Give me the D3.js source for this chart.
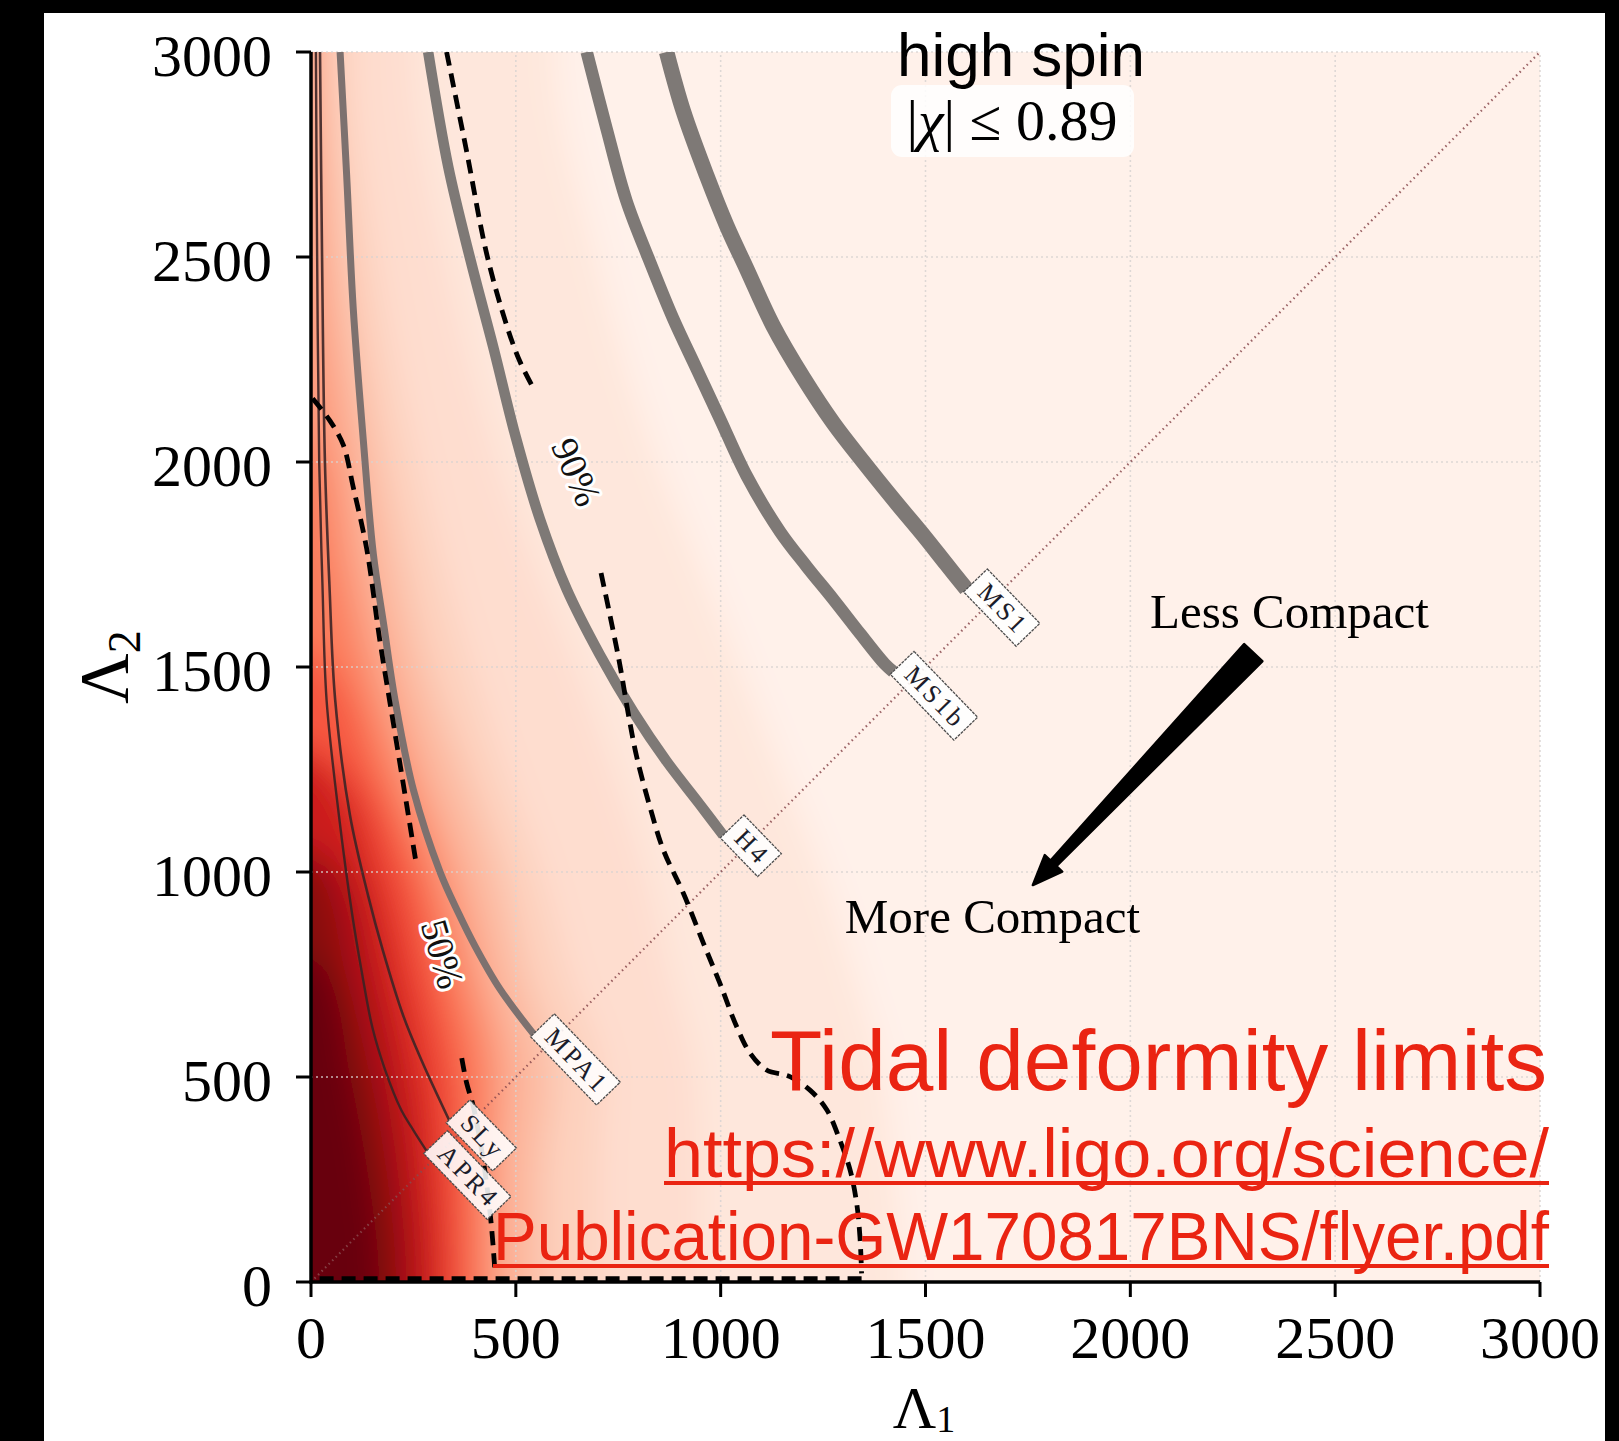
<!DOCTYPE html>
<html>
<head>
<meta charset="utf-8">
<script src="https://cdn.jsdelivr.net/npm/d3@7"></script>
<style>
  html, body { margin: 0; padding: 0; background: #fff; }
  svg { display: block; }
</style>
</head>
<body>
<svg id="chart" width="1619" height="1441"></svg>
<script>
// ---------------- data ----------------
const xTicks = [0, 500, 1000, 1500, 2000, 2500, 3000];
const yTicks = [0, 500, 1000, 1500, 2000, 2500, 3000];

// Posterior density shading: for each level (fraction of the Reds ramp) the
// Λ1 value where the density drops below that level, listed per Λ2 row.
// null = level not reached on that row.
const shadeRows = [0, 250, 500, 750, 1000, 1250, 1500, 1750, 2000, 2500, 3000];
const shadeFloor = 0.025;
const shadeLevels = [0.06, 0.10, 0.15, 0.20, 0.30, 0.40, 0.50, 0.60, 0.70, 0.80, 0.90, 0.97];
const shade006 = [1450, 1430, 1400, 1330, 1250, 1150, 1050, 950, 850, 700, 600];
const shade010 = [950, 950, 940, 880, 820, 740, 650, 550, 460, 330, 250];
const shade015 = [700, 700, 710, 630, 560, 470, 390, 320, 260, 160, 100];
const shade020 = [565, 565, 590, 520, 460, 370, 280, 220, 170, 85, 45];
const shade030 = [470, 470, 485, 430, 365, 270, 190, 130, 90, 25, 10];
const shade040 = [425, 425, 425, 370, 300, 205, 120, 60, 20, null, null];
const shade050 = [385, 380, 370, 315, 255, 150, 40, null, null, null, null];
const shade060 = [345, 335, 315, 260, 195, 80, null, null, null, null, null];
const shade070 = [305, 290, 260, 205, 140, 30, null, null, null, null, null];
const shade080 = [265, 245, 205, 150, 85, null, null, null, null, null, null];
const shade090 = [215, 195, 150, 90, 20, null, null, null, null, null, null];
const shade097 = [165, 140, 95, 40, null, null, null, null, null, null, null];
const shadeEdges = [shade006, shade010, shade015, shade020, shade030, shade040,
                    shade050, shade060, shade070, shade080, shade090, shade097];

// Equation-of-state tracks [Λ1, Λ2]; each ends on the equal-mass line.
const eosAPR4 = [[12,3000],[15,2500],[20,2000],[28,1700],[38,1420],[68,1139],[100,900],[125,750],[150,620],[180,520],[220,420],[250,370],[282,320]];
const eosSLy  = [[22,3000],[27,2500],[34,2000],[45,1700],[59,1420],[95,1139],[140,940],[175,810],[225,650],[270,540],[337,395]];
const eosMPA1 = [[71,3000],[87,2700],[103,2376],[128,2049],[152,1777],[178,1600],[205,1420],[250,1200],[315,1000],[360,900],[400,820],[461,715],[543,605]];
const eosH4   = [[286,3000],[335,2720],[390,2490],[445,2280],[500,2060],[559,1860],[624,1690],[705,1530],[787,1390],[868,1270],[949,1165],[1006,1090]];
const eosMS1b = [[673,3000],[722,2811],[770,2637],[827,2489],[884,2350],[941,2228],[998,2106],[1063,1967],[1145,1830],[1210,1745],[1275,1665],[1340,1582],[1400,1508],[1421,1489]];
const eosMS1  = [[868,3000],[909,2855],[966,2698],[1015,2576],[1063,2472],[1128,2332],[1202,2205],[1275,2095],[1350,1998],[1425,1905],[1500,1815],[1550,1752],[1600,1690]];
const eosNames = ["APR4", "SLy", "MPA1", "H4", "MS1b", "MS1"];
const eosTracks = [eosAPR4, eosSLy, eosMPA1, eosH4, eosMS1b, eosMS1];

// Credible-region contours (dashed), split where the inline labels sit.
const c90Upper = [[331,3000],[380,2757],[429,2507],[478,2332],[510,2245],[543,2180]];
const c90Lower = [[708,1729],[730,1625],[754,1505],[775,1383],[795,1281],[827,1160],[860,1054],[909,948],[958,826],[998,729],[1039,623],[1072,558],[1112,517],[1169,501],[1218,468],[1259,420],[1291,346],[1316,273],[1332,192],[1340,110],[1344,21]];
const c90Floor = [[1344,8],[0,8]];
const c50Upper = [[4,2155],[46,2101],[79,2041],[103,1939],[136,1788],[168,1565],[201,1363],[234,1161],[258,1013]];
const c50Lower = [[368,546],[380,485],[396,429],[415,330],[430,230],[441,130],[449,27]];
const c90LabelAt = [649, 1976];
const c50LabelAt = [322, 800];

// Annotation anchors [Λ1, Λ2]
const arrowFrom = [2300, 1535];
const arrowTo = [1762, 968];
const lessLabelAt = [2048, 1595];
const moreLabelAt = [1303, 851];

// ---------------- drawing ----------------
const svg = d3.select("#chart");
const W = 1619, H = 1441;
const x = d3.scaleLinear().domain([0, 3000]).range([311, 1540]);
const y = d3.scaleLinear().domain([0, 3000]).range([1282, 52]);
const serif = "'Liberation Serif', 'DejaVu Serif', serif";
const sans = "'Liberation Sans', Arial, sans-serif";
const red = "#ea2412";

svg.append("rect").attr("width", W).attr("height", H).attr("fill", "#fff");

const defs = svg.append("defs");
defs.append("clipPath").attr("id", "plotClip")
  .append("rect").attr("x", x(0)).attr("y", y(3000))
  .attr("width", x(3000) - x(0)).attr("height", y(0) - y(3000));
const blur = defs.append("filter").attr("id", "soft")
  .attr("filterUnits", "userSpaceOnUse")
  .attr("x", 100).attr("y", -200).attr("width", 1700).attr("height", 1700);
blur.append("feGaussianBlur").attr("stdDeviation", 16);

// density shading
const shade = svg.append("g").attr("clip-path", "url(#plotClip)")
  .append("g").attr("filter", "url(#soft)");
shade.append("rect")
  .attr("x", x(-300)).attr("y", y(3300))
  .attr("width", x(3300) - x(-300)).attr("height", y(-300) - y(3300))
  .attr("fill", d3.interpolateReds(shadeFloor));
const bandArea = d3.area()
  .curve(d3.curveMonotoneY)
  .y(d => y(d[0]))
  .x0(x(-300))
  .x1(d => x(d[1] === null ? -400 : d[1]));
shadeLevels.forEach((t, k) => {
  const e = shadeEdges[k];
  const pts = [[-300, e[0]]].concat(shadeRows.map((r, i) => [r, e[i]]), [[3300, e[e.length - 1]]]);
  pts.reverse(); // top of plot first so pixel y increases
  const tFill = k < shadeLevels.length - 1 ? (t + shadeLevels[k + 1]) / 2 : 1;
  shade.append("path").attr("d", bandArea(pts)).attr("fill", d3.interpolateReds(tFill));
});

// grid
const grid = svg.append("g").attr("stroke", "#d9d4d2").attr("stroke-width", 1.6)
  .attr("stroke-dasharray", "2,3").attr("opacity", 0.85);
grid.selectAll(".gx").data(xTicks).join("line")
  .attr("x1", d => x(d)).attr("x2", d => x(d)).attr("y1", y(0)).attr("y2", y(3000));
grid.selectAll(".gy").data(yTicks).join("line")
  .attr("y1", d => y(d)).attr("y2", d => y(d)).attr("x1", x(0)).attr("x2", x(3000));

// equal-mass diagonal
svg.append("line")
  .attr("x1", x(0)).attr("y1", y(0)).attr("x2", x(3000)).attr("y2", y(3000))
  .attr("stroke", "#8a4a4e").attr("stroke-width", 2.2)
  .attr("stroke-dasharray", "1.5,3.5").attr("opacity", 0.85);

// EOS tracks
const trackLine = d3.line().curve(d3.curveCatmullRom.alpha(0.5)).x(d => x(d[0])).y(d => y(d[1]));
const trackStyle = {
  APR4: { w: 2.4, c: "#3b2223", o: 0.9 },
  SLy:  { w: 2.6, c: "#3d2526", o: 0.9 },
  MPA1: { w: 7,   c: "#7d716f", o: 1 },
  H4:   { w: 10.5, c: "#7e7976", o: 1 },
  MS1b: { w: 12.5, c: "#7e7976", o: 1 },
  MS1:  { w: 15.5, c: "#7e7976", o: 1 }
};
const tracksG = svg.append("g").attr("clip-path", "url(#plotClip)");
eosTracks.forEach((pts, i) => {
  const s = trackStyle[eosNames[i]];
  tracksG.append("path").attr("d", trackLine(pts)).attr("fill", "none")
    .attr("stroke", s.c).attr("stroke-width", s.w).attr("opacity", s.o)
    .attr("stroke-linecap", "butt");
});

// credible-region contours
const contourG = svg.append("g").attr("clip-path", "url(#plotClip)")
  .attr("fill", "none").attr("stroke", "#000").attr("stroke-width", 4.8)
  .attr("stroke-dasharray", "14,8");
[c90Upper, c90Lower, c50Upper, c50Lower].forEach(pts => {
  contourG.append("path").attr("d", trackLine(pts));
});
contourG.append("path").attr("d", d3.line().x(d => x(d[0])).y(d => y(d[1]))(c90Floor));

// contour labels
function contourLabel(txt, at, angle) {
  svg.append("text")
    .attr("transform", `translate(${x(at[0])},${y(at[1])}) rotate(${angle})`)
    .attr("text-anchor", "middle").attr("dy", "0.35em")
    .attr("font-family", serif).attr("font-size", 38)
    .attr("fill", "#111").attr("stroke", "#fff").attr("stroke-width", 6)
    .attr("paint-order", "stroke").attr("stroke-linejoin", "round")
    .text(txt);
}
contourLabel("90%", c90LabelAt, 66);
contourLabel("50%", c50LabelAt, 74);

// EOS name tags at the end of each track
eosTracks.forEach((pts, i) => {
  const end = pts[pts.length - 1];
  const g = svg.append("g")
    .attr("transform", `translate(${x(end[0])},${y(end[1])}) rotate(46)`);
  const rect = g.append("rect");
  const t = g.append("text")
    .attr("x", 10).attr("y", -4)
    .attr("font-family", serif).attr("font-size", 26)
    .attr("letter-spacing", 3).attr("fill", "#1c1c2a")
    .text(eosNames[i]);
  const len = t.node().getComputedTextLength();
  rect.attr("x", 0).attr("y", -29).attr("width", len + 16).attr("height", 33)
    .attr("fill", "#fff").attr("fill-opacity", 0.88)
    .attr("stroke", "#4d4d4d").attr("stroke-width", 1.3)
    .attr("stroke-dasharray", "3,1");
});

// "Less Compact" -> "More Compact" arrow
(function () {
  const T = [x(arrowFrom[0]), y(arrowFrom[1])];
  const P = [x(arrowTo[0]), y(arrowTo[1])];
  const dx = P[0] - T[0], dy = P[1] - T[1];
  const L = Math.hypot(dx, dy);
  const u = [dx / L, dy / L], n = [-u[1], u[0]];
  const headLen = 30, headHalf = 12, tailHalf = 12.5, neckHalf = 4;
  const B = [P[0] - u[0] * headLen, P[1] - u[1] * headLen];
  const pt = (p, s) => [p[0] + n[0] * s, p[1] + n[1] * s];
  const poly = [pt(T, tailHalf), pt(B, neckHalf), pt(B, headHalf), P,
                pt(B, -headHalf), pt(B, -neckHalf), pt(T, -tailHalf)];
  svg.append("path").attr("d", "M" + poly.map(p => p.join(",")).join("L") + "Z")
    .attr("fill", "#000").attr("stroke", "#000").attr("stroke-width", 2.5)
    .attr("stroke-linejoin", "round");
})();

svg.append("text").attr("x", x(lessLabelAt[0])).attr("y", y(lessLabelAt[1]))
  .attr("font-family", serif).attr("font-size", 49).attr("fill", "#000")
  .text("Less Compact");
svg.append("text").attr("x", x(moreLabelAt[0])).attr("y", y(moreLabelAt[1]))
  .attr("font-family", serif).attr("font-size", 49).attr("fill", "#000")
  .text("More Compact");

// axes: spines, outward ticks, labels
const axisG = svg.append("g");
axisG.append("line").attr("x1", x(0)).attr("x2", x(0)).attr("y1", y(0) + 1.5).attr("y2", y(3000))
  .attr("stroke", "#000").attr("stroke-width", 3.5);
axisG.append("line").attr("x1", x(0) - 1.5).attr("x2", x(3000)).attr("y1", y(0)).attr("y2", y(0))
  .attr("stroke", "#000").attr("stroke-width", 3.5);
axisG.selectAll(".tx").data(xTicks).join("line")
  .attr("x1", d => x(d)).attr("x2", d => x(d)).attr("y1", y(0)).attr("y2", y(0) + 15)
  .attr("stroke", "#000").attr("stroke-width", 3);
axisG.selectAll(".ty").data(yTicks).join("line")
  .attr("y1", d => y(d)).attr("y2", d => y(d)).attr("x1", x(0)).attr("x2", x(0) - 15)
  .attr("stroke", "#000").attr("stroke-width", 3);
axisG.selectAll(".lx").data(xTicks).join("text")
  .attr("x", d => x(d)).attr("y", 1358).attr("text-anchor", "middle")
  .attr("font-family", serif).attr("font-size", 60).attr("fill", "#000")
  .text(d => d);
axisG.selectAll(".ly").data(yTicks).join("text")
  .attr("x", 272).attr("y", d => y(d) + 24).attr("text-anchor", "end")
  .attr("font-family", serif).attr("font-size", 60).attr("fill", "#000")
  .text(d => d);

const xl = svg.append("text").attr("x", 924).attr("y", 1428).attr("text-anchor", "middle")
  .attr("font-family", serif).attr("font-size", 60).attr("fill", "#000");
xl.append("tspan").text("Λ");
xl.append("tspan").attr("font-size", 38).attr("dy", 4).text("1");
const yl = svg.append("text").attr("transform", "translate(128,667) rotate(-90)")
  .attr("text-anchor", "middle")
  .attr("font-family", serif).attr("font-size", 70).attr("fill", "#000");
yl.append("tspan").text("Λ");
yl.append("tspan").attr("font-size", 46).attr("dy", 12).text("2");

// spin prior tag
svg.append("rect").attr("x", 891).attr("y", 85).attr("width", 243).attr("height", 72)
  .attr("rx", 11).attr("fill", "#fff").attr("fill-opacity", 0.85);
svg.append("text").attr("x", 1021).attr("y", 76).attr("text-anchor", "middle")
  .attr("font-family", sans).attr("font-size", 62).attr("fill", "#000")
  .text("high spin");
const chi = svg.append("text").attr("x", 1012).attr("y", 140).attr("text-anchor", "middle")
  .attr("font-family", serif).attr("font-size", 58).attr("fill", "#000");
chi.append("tspan").text("|");
chi.append("tspan").attr("font-style", "italic").text("χ");
chi.append("tspan").text("| ≤ 0.89");

// caption and source link
svg.append("text").attr("x", 1547).attr("y", 1090).attr("text-anchor", "end")
  .attr("font-family", sans).attr("font-size", 86).attr("fill", red)
  .attr("textLength", 777).attr("lengthAdjust", "spacingAndGlyphs")
  .text("Tidal deformity limits");
[["https://www.ligo.org/science/", 1177, 885], ["Publication-GW170817BNS/flyer.pdf", 1260, 1056]].forEach(([s, by, w]) => {
  svg.append("text").attr("x", 1549).attr("y", by).attr("text-anchor", "end")
    .attr("font-family", sans).attr("font-size", 68).attr("fill", red)
    .attr("textLength", w).attr("lengthAdjust", "spacingAndGlyphs").text(s);
  svg.append("rect").attr("x", 1549 - w).attr("y", by + 4).attr("width", w).attr("height", 4)
    .attr("fill", red);
});

// dark frame
svg.append("rect").attr("x", 0).attr("y", 0).attr("width", W).attr("height", 13).attr("fill", "#000");
svg.append("rect").attr("x", 0).attr("y", 0).attr("width", 44).attr("height", H).attr("fill", "#000");
svg.append("rect").attr("x", 1605).attr("y", 0).attr("width", W - 1605).attr("height", H).attr("fill", "#000");
</script>
</body>
</html>
